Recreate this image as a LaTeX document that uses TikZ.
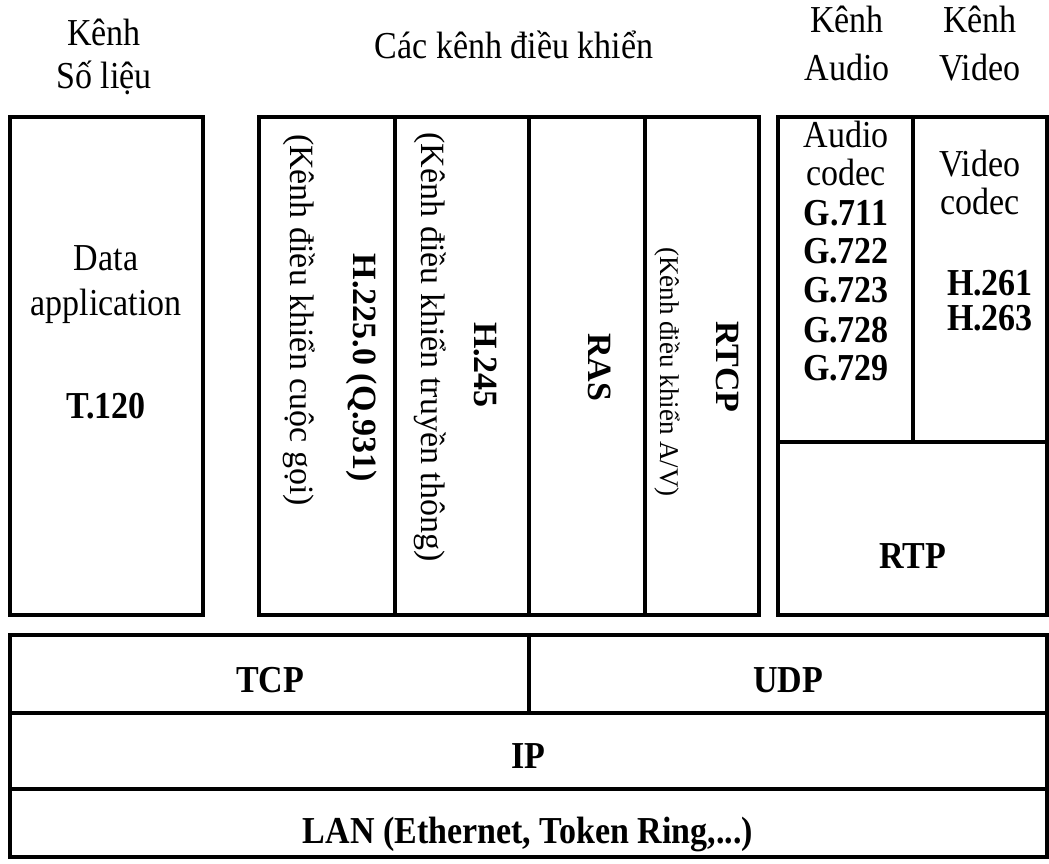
\documentclass[tikz,border=0pt]{standalone}
\usepackage{graphicx}
\usepackage{fontspec}
\setmainfont{Liberation Serif}
\newcommand\tallt[1]{\scalebox{1}[1.12]{#1}}
\begin{document}
\begin{tikzpicture}[x=1pt,y=-1pt,
  box/.style={line width=3.5pt},
  txt/.style={font=\fontsize{34}{40}\selectfont, inner sep=0pt},
  btxt/.style={font=\fontsize{34}{40}\selectfont\bfseries, inner sep=0pt},
  stxt/.style={font=\fontsize{27}{32}\selectfont, inner sep=0pt},
  vert/.style={rotate=-90}]
\useasboundingbox (0,0) rectangle (1049,863);
% top labels
\node[txt,anchor=base] (l1a) at (104,45) {\tallt{Kênh}};
\node[txt,anchor=base] (l1b) at (104,88) {\tallt{Số liệu}};
\node[txt,anchor=base] (l2) at (514,58) {\tallt{Các kênh điều khiển}};
\node[txt,anchor=base] (l3a) at (847,32) {\tallt{Kênh}};
\node[txt,anchor=base] (l3b) at (847,80) {\tallt{Audio}};
\node[txt,anchor=base] (l4a) at (980,32) {\tallt{Kênh}};
\node[txt,anchor=base] (l4b) at (980,80) {\tallt{Video}};
% data box
\draw[box] (10,117) rectangle (203,615);
\node[txt,anchor=base] (d1) at (106,270) {\tallt{Data}};
\node[txt,anchor=base] (d2) at (106,315) {\tallt{application}};
\node[btxt,anchor=base] (d3) at (106,418) {\tallt{T.120}};
% control channels
\draw[box] (259,117) rectangle (759,615);
\draw[box] (395,117) -- (395,615);
\draw[box] (529,117) -- (529,615);
\draw[box] (645,117) -- (645,615);
\node[txt,vert] (c1s) at (299,320) {(Kênh điều khiển cuộc gọi)};
\node[btxt,vert] (c1t) at (362,368) {H.225.0 (Q.931)};
\node[txt,vert] (c2s) at (430,347) {(Kênh điều khiển truyền thông)};
\node[btxt,vert] (c2t) at (486,365) {H.245};
\node[btxt,vert] (c3t) at (600,367) {RAS};
\node[stxt,vert] (c4s) at (667,372) {(Kênh điều khiển A/V)};
\node[btxt,vert] (c4t) at (728,367) {RTCP};
% media
\draw[box] (778,117) rectangle (1047,615);
\draw[box] (778,442) -- (1047,442);
\draw[box] (913,117) -- (913,442);
\node[txt,anchor=base] (a1) at (846,147) {\tallt{Audio}};
\node[txt,anchor=base] (a2) at (846,185) {\tallt{codec}};
\node[btxt,anchor=base] (a3) at (846,225) {\tallt{G.711}};
\node[btxt,anchor=base] (a4) at (846,263) {\tallt{G.722}};
\node[btxt,anchor=base] (a5) at (846,302) {\tallt{G.723}};
\node[btxt,anchor=base] (a6) at (846,342) {\tallt{G.728}};
\node[btxt,anchor=base] (a7) at (846,380) {\tallt{G.729}};
\node[txt,anchor=base] (v1) at (980,176) {\tallt{Video}};
\node[txt,anchor=base] (v2) at (980,214) {\tallt{codec}};
\node[btxt,anchor=base] (v3) at (990,295) {\tallt{H.261}};
\node[btxt,anchor=base] (v4) at (990,330) {\tallt{H.263}};
\node[btxt,anchor=base] (rtp) at (913,568) {\tallt{RTP}};
% lower layers
\draw[box] (10,635) rectangle (1047,857);
\draw[box] (10,713) -- (1047,713);
\draw[box] (10,789) -- (1047,789);
\draw[box] (529,635) -- (529,713);
\node[btxt,anchor=base] (tcp) at (270,692) {\tallt{TCP}};
\node[btxt,anchor=base] (udp) at (788,692) {\tallt{UDP}};
\node[btxt,anchor=base] (ip) at (528,768) {\tallt{IP}};
\node[btxt,anchor=base] (lan) at (528,843) {\tallt{LAN (Ethernet, Token Ring,...)}};
\end{tikzpicture}
\end{document}
